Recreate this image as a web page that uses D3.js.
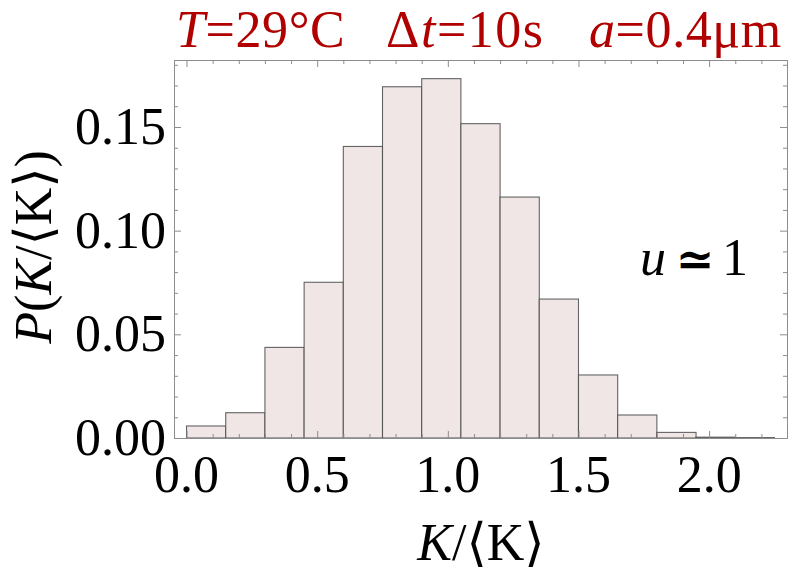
<!DOCTYPE html>
<html>
<head>
<meta charset="utf-8">
<script src="https://cdn.jsdelivr.net/npm/d3@7"></script>
<style>
  body { margin: 0; background: #fff; }
  svg { display: block; }
  text { font-family: "Liberation Serif", "Times New Roman", "DejaVu Serif", serif; }
</style>
</head>
<body>
<svg id="chart" width="792" height="578"></svg>
<script>
// ---- data ----
const binEdges = [0, 0.15, 0.3, 0.45, 0.6, 0.75, 0.9, 1.05, 1.2, 1.35, 1.5, 1.65, 1.8, 1.95, 2.1, 2.25];
const binValues = [0.0058, 0.0122, 0.0437, 0.0751, 0.1406, 0.1694, 0.1733, 0.1516, 0.1162, 0.0670, 0.0304, 0.0111, 0.0027, 0.0004, 0.0002];
const xMajorTicks = [0, 0.5, 1.0, 1.5, 2.0];
const xTickLabels = ["0.0", "0.5", "1.0", "1.5", "2.0"];
const xMinorTicks = [0.1, 0.2, 0.3, 0.4, 0.6, 0.7, 0.8, 0.9, 1.1, 1.2, 1.3, 1.4, 1.6, 1.7, 1.8, 1.9, 2.1, 2.2];
const yMajorTicks = [0, 0.05, 0.10, 0.15];
const yTickLabels = ["0.00", "0.05", "0.10", "0.15"];
const yMinorTicks = [0.01, 0.02, 0.03, 0.04, 0.06, 0.07, 0.08, 0.09, 0.11, 0.12, 0.13, 0.14, 0.16, 0.17, 0.18];

const svg = d3.select("#chart");
const L = 174, R = 787, T = 60, B = 438;
const x = d3.scaleLinear().domain([-0.048, 2.298]).range([L, R]);
const y = d3.scaleLinear().domain([0, 0.1823]).range([B, T]);

const bars = binValues.map((v, i) => ({ x0: binEdges[i], x1: binEdges[i + 1], v }));

// bars
svg.append("g").selectAll("rect").data(bars).join("rect")
  .attr("x", d => x(d.x0))
  .attr("y", d => y(d.v))
  .attr("width", d => x(d.x1) - x(d.x0))
  .attr("height", d => y(0) - y(d.v))
  .attr("fill", "#f0e6e6")
  .attr("stroke", "#4a4a4a")
  .attr("stroke-opacity", 0.85)
  .attr("stroke-width", 1.1);

// frame axes
const frameColor = "#8c8c8c";
function styleAxis(g) {
  g.select(".domain").attr("stroke", frameColor).attr("stroke-width", 1);
  g.selectAll(".tick line").attr("stroke", frameColor).attr("stroke-width", 1);
  g.selectAll(".tick text").remove();
}
const major = 7, minor = 4;
function addAxis(axisFn, scale, ticks, size, transform) {
  const g = svg.append("g").attr("transform", transform)
    .call(axisFn(scale).tickValues(ticks).tickSize(size).tickSizeOuter(0).tickFormat(""));
  styleAxis(g);
  return g;
}
addAxis(d3.axisBottom, x, xMajorTicks, -major, `translate(0,${B})`);
addAxis(d3.axisBottom, x, xMinorTicks, -minor, `translate(0,${B})`);
addAxis(d3.axisTop, x, xMajorTicks, -major, `translate(0,${T})`);
addAxis(d3.axisTop, x, xMinorTicks, -minor, `translate(0,${T})`);
addAxis(d3.axisLeft, y, yMajorTicks, -major, `translate(${L},0)`);
addAxis(d3.axisLeft, y, yMinorTicks, -minor, `translate(${L},0)`);
addAxis(d3.axisRight, y, yMajorTicks, -major, `translate(${R},0)`);
addAxis(d3.axisRight, y, yMinorTicks, -minor, `translate(${R},0)`);

// tick labels
const fs = 52;
svg.append("g").selectAll("text").data(xMajorTicks).join("text")
  .attr("x", d => x(d))
  .attr("y", 492)
  .attr("text-anchor", "middle")
  .attr("font-size", fs)
  .attr("fill", "#000")
  .text((d, i) => xTickLabels[i]);

svg.append("g").selectAll("text").data(yMajorTicks).join("text")
  .attr("x", 166)
  .attr("y", d => y(d))
  .attr("dy", "0.33em")
  .attr("text-anchor", "end")
  .attr("font-size", fs)
  .attr("fill", "#000")
  .text((d, i) => yTickLabels[i]);

// axis labels
const xl = svg.append("text")
  .attr("x", 481).attr("y", 560)
  .attr("text-anchor", "middle")
  .attr("font-size", fs);
xl.append("tspan").attr("font-style", "italic").text("K");
xl.append("tspan").text("/⟨K⟩");

const yl = svg.append("text")
  .attr("transform", "translate(51,247) rotate(-90)")
  .attr("text-anchor", "middle")
  .attr("font-size", fs);
yl.append("tspan").attr("font-style", "italic").text("P");
yl.append("tspan").text("(");
yl.append("tspan").attr("font-style", "italic").text("K");
yl.append("tspan").text("/⟨K⟩)");

// annotation
svg.append("text").attr("x", 640).attr("y", 275).attr("font-size", fs)
  .attr("font-style", "italic").text("u");
svg.append("text").attr("x", 695).attr("y", 275).attr("font-size", 46)
  .attr("font-weight", "bold")
  .attr("text-anchor", "middle").text("≃");
svg.append("text").attr("x", 748).attr("y", 275).attr("font-size", fs)
  .attr("text-anchor", "end").text("1");

// title
const red = "#b00000";
const tfs = 52;
const t1 = svg.append("text").attr("x", 176).attr("y", 47).attr("font-size", tfs).attr("fill", red)
  .attr("letter-spacing", 0.6);
t1.append("tspan").attr("font-style", "italic").text("T");
t1.append("tspan").text("=29°C");
const t2 = svg.append("text").attr("x", 386).attr("y", 47).attr("font-size", tfs).attr("fill", red)
  .attr("letter-spacing", 1.5);
t2.append("tspan").text("Δ");
t2.append("tspan").attr("font-style", "italic").text("t");
t2.append("tspan").text("=10s");
const t3 = svg.append("text").attr("x", 589).attr("y", 47).attr("font-size", tfs).attr("fill", red)
  .attr("letter-spacing", 0.6);
t3.append("tspan").attr("font-style", "italic").text("a");
t3.append("tspan").text("=0.4μm");
</script>
</body>
</html>
